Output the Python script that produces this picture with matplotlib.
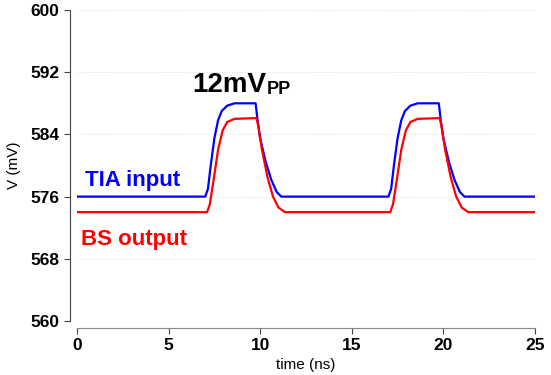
import matplotlib
matplotlib.use("Agg")
import matplotlib.pyplot as plt

plt.rcParams['font.family'] = ['Liberation Sans', 'DejaVu Sans']

# TIA input waveform (ns, mV)
t_tia = [0, 7.0, 7.15, 7.3, 7.5, 7.7, 7.9, 8.2, 8.6, 9.75, 9.85, 10.0, 10.3, 10.6, 10.9, 11.15,
         17.0, 17.15, 17.3, 17.5, 17.7, 17.9, 18.2, 18.6, 19.75, 19.85, 20.0, 20.3, 20.6, 20.9, 21.15, 25]
v_tia = [576, 576, 577, 580, 583.5, 585.8, 587.0, 587.7, 588.0, 588.0, 586.0, 583.5, 580.5, 578.2, 576.6, 576.0,
         576, 577, 580, 583.5, 585.8, 587.0, 587.7, 588.0, 588.0, 586.0, 583.5, 580.5, 578.2, 576.6, 576.0, 576]

# BS output waveform (ns, mV)
t_bs = [0, 7.1, 7.25, 7.45, 7.7, 7.95, 8.2, 8.6, 9.8, 9.9, 10.1, 10.4, 10.7, 11.0, 11.35,
        17.1, 17.25, 17.45, 17.7, 17.95, 18.2, 18.6, 19.8, 19.9, 20.1, 20.4, 20.7, 21.0, 21.35, 25]
v_bs = [574, 574, 575, 578, 582, 584.5, 585.6, 586.0, 586.1, 585.0, 582.0, 578.5, 576.0, 574.6, 574.0,
        574, 575, 578, 582, 584.5, 585.6, 586.0, 586.1, 585.0, 582.0, 578.5, 576.0, 574.6, 574.0, 574]

x_ticks = [0, 5, 10, 15, 20, 25]
y_ticks = [560, 568, 576, 584, 592, 600]

fig = plt.figure(figsize=(5.51, 3.75), dpi=100)
ax = fig.add_axes([0.1397, 0.144, 0.8312, 0.8293])

for y in y_ticks:
    ax.axhline(y, color='#d8d8d8', lw=0.7, ls=':', zorder=0)

ax.plot(t_tia, v_tia, color='#0000ff', lw=1.6)
ax.plot(t_bs, v_bs, color='#ff0000', lw=1.6)

ax.set_xlim(0, 25)
ax.set_ylim(560, 600)
ax.set_xticks(x_ticks)
ax.set_yticks(y_ticks)
ax.tick_params(length=4, color='#444444', labelsize=12.5)

ax.spines['top'].set_visible(False)
ax.spines['right'].set_visible(False)
ax.spines['left'].set_position(('outward', 5))
ax.spines['bottom'].set_position(('outward', 5))
ax.spines['left'].set_color('#444444')
ax.spines['bottom'].set_color('#888888')

ax.set_ylabel('V (mV)', fontsize=11, labelpad=7)
ax.set_xlabel('time (ns)', fontsize=11, labelpad=3)

ax.text(6.3, 589.4, '12mV', fontsize=20, fontweight='bold', va='baseline')
ax.text(10.35, 590.9, 'PP', fontsize=13, fontweight='bold', va='top')
ax.text(0.45, 577.4, 'TIA input', fontsize=16, fontweight='bold', color='#0000ff')
ax.text(0.2, 569.8, 'BS output', fontsize=16, fontweight='bold', color='#ff0000')

fig.canvas.draw()
for lab in ax.get_xticklabels() + ax.get_yticklabels():
    lab.set_fontweight('bold')

fig.savefig('out.png', dpi=100)
